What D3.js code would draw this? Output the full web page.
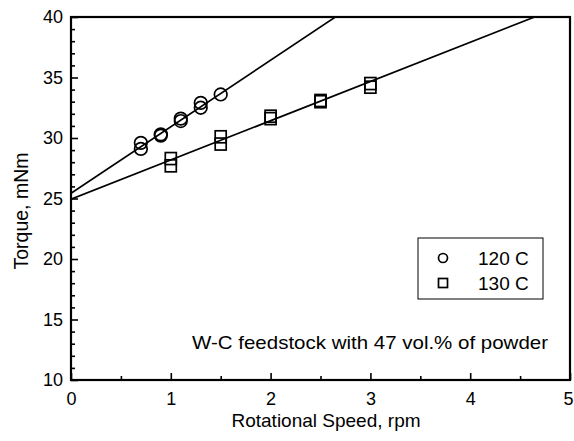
<!DOCTYPE html>
<html>
<head>
<meta charset="utf-8">
<script src="https://cdn.jsdelivr.net/npm/d3@7"></script>
<style>
  html, body { margin: 0; padding: 0; background: #fff; }
  svg { display: block; }
  text { font-family: "Liberation Sans", Arial, sans-serif; fill: #000; }
</style>
</head>
<body>
<svg id="chart" width="574" height="441"></svg>
<script>
// ---- data ----
const speed120 = [0.7, 0.7, 0.9, 0.9, 1.1, 1.1, 1.3, 1.3, 1.5];
const torque120 = [29.6, 29.1, 30.2, 30.3, 31.4, 31.6, 32.5, 32.9, 33.6];
const speed130 = [1.0, 1.0, 1.5, 1.5, 2.0, 2.0, 2.5, 2.5, 3.0, 3.0];
const torque130 = [28.3, 27.7, 30.1, 29.5, 31.8, 31.6, 33.1, 33.0, 34.5, 34.2];
// linear fit lines: [intercept, slope]
const fit120 = [25.43, 5.5];
const fit130 = [24.95, 3.24];
const seriesNames = ["120 C", "130 C"];
const xTicks = [0, 1, 2, 3, 4, 5];
const xMinorTicks = [0.5, 1.5, 2.5, 3.5, 4.5];
const yTicks = [10, 15, 20, 25, 30, 35, 40];
const yMinorTicks = d3.range(10, 41, 1).filter(v => v % 5 !== 0);
const xLabel = "Rotational Speed, rpm";
const yLabel = "Torque, mNm";
const note = "W-C feedstock with 47 vol.% of powder";

// ---- layout ----
const svg = d3.select("#chart");
const L = 71, R = 570, T = 17, B = 380;
const x = d3.scaleLinear().domain([0, 5]).range([L, R]);
const y = d3.scaleLinear().domain([10, 40]).range([B, T]);

svg.append("rect").attr("width", 574).attr("height", 441).attr("fill", "#fff");

svg.append("defs").append("clipPath").attr("id", "clip")
  .append("rect").attr("x", L).attr("y", T).attr("width", R - L).attr("height", B - T);

// axes (ticks inward)
const gx = svg.append("g").attr("transform", `translate(0,${B})`)
  .call(d3.axisBottom(x).tickValues(xTicks).tickSize(-7).tickPadding(12).tickFormat(d3.format("d")));
const gxm = svg.append("g").attr("transform", `translate(0,${B})`)
  .call(d3.axisBottom(x).tickValues(xMinorTicks).tickSize(-4).tickFormat(""));
const gy = svg.append("g").attr("transform", `translate(${L},0)`)
  .call(d3.axisLeft(y).tickValues(yTicks).tickSize(-7).tickPadding(8).tickFormat(d3.format("d")));
const gym = svg.append("g").attr("transform", `translate(${L},0)`)
  .call(d3.axisLeft(y).tickValues(yMinorTicks).tickSize(-4).tickFormat(""));
[gx, gxm, gy, gym].forEach(g => {
  g.select(".domain").remove();
  g.selectAll("line").attr("stroke", "#000").attr("stroke-width", 1.6);
  g.selectAll("text").attr("font-size", 18).attr("font-family", "Liberation Sans, Arial, sans-serif").attr("fill", "#000");
});
// keep the last x tick label inside the window
gx.selectAll(".tick text").filter(d => d === 5).attr("text-anchor", "end").attr("x", 3);

// frame
svg.append("rect").attr("x", L).attr("y", T).attr("width", R - L).attr("height", B - T)
  .attr("fill", "none").attr("stroke", "#000").attr("stroke-width", 2.2);

// fit lines
const plot = svg.append("g").attr("clip-path", "url(#clip)");
[fit120, fit130].forEach(f => {
  const pts = [0, 5].map(s => [s, f[0] + f[1] * s]);
  plot.append("path")
    .attr("d", d3.line().x(d => x(d[0])).y(d => y(d[1]))(pts))
    .attr("fill", "none").attr("stroke", "#000").attr("stroke-width", 1.7);
});

// markers
const pts120 = speed120.map((s, i) => [s, torque120[i]]);
const pts130 = speed130.map((s, i) => [s, torque130[i]]);
svg.append("g").selectAll("circle").data(pts120).join("circle")
  .attr("cx", d => x(d[0])).attr("cy", d => y(d[1])).attr("r", 6.3)
  .attr("fill", "none").attr("stroke", "#000").attr("stroke-width", 1.7);
svg.append("g").selectAll("rect").data(pts130).join("rect")
  .attr("x", d => x(d[0]) - 5.5).attr("y", d => y(d[1]) - 6)
  .attr("width", 11).attr("height", 12)
  .attr("fill", "none").attr("stroke", "#000").attr("stroke-width", 1.7);

// axis labels
svg.append("text").attr("x", 326).attr("y", 427).attr("text-anchor", "middle")
  .attr("font-size", 19).text(xLabel);
svg.append("text").attr("transform", "translate(28,211) rotate(-90)")
  .attr("text-anchor", "middle").attr("font-size", 19.5).text(yLabel);

// annotation
svg.append("text").attr("x", 548).attr("y", 349).attr("text-anchor", "end")
  .attr("font-size", 19).attr("textLength", 356).attr("lengthAdjust", "spacingAndGlyphs").text(note);

// legend
const lg = svg.append("g");
lg.append("rect").attr("x", 418).attr("y", 238).attr("width", 125).attr("height", 61)
  .attr("fill", "#fff").attr("stroke", "#000").attr("stroke-width", 1);
lg.append("circle").attr("cx", 443).attr("cy", 258).attr("r", 4.5)
  .attr("fill", "none").attr("stroke", "#000").attr("stroke-width", 1.7);
lg.append("rect").attr("x", 438.5).attr("y", 278.5).attr("width", 9).attr("height", 9)
  .attr("fill", "none").attr("stroke", "#000").attr("stroke-width", 1.7);
lg.append("text").attr("x", 478).attr("y", 265).attr("font-size", 19).text(seriesNames[0]);
lg.append("text").attr("x", 478).attr("y", 290).attr("font-size", 19).text(seriesNames[1]);
</script>
</body>
</html>
